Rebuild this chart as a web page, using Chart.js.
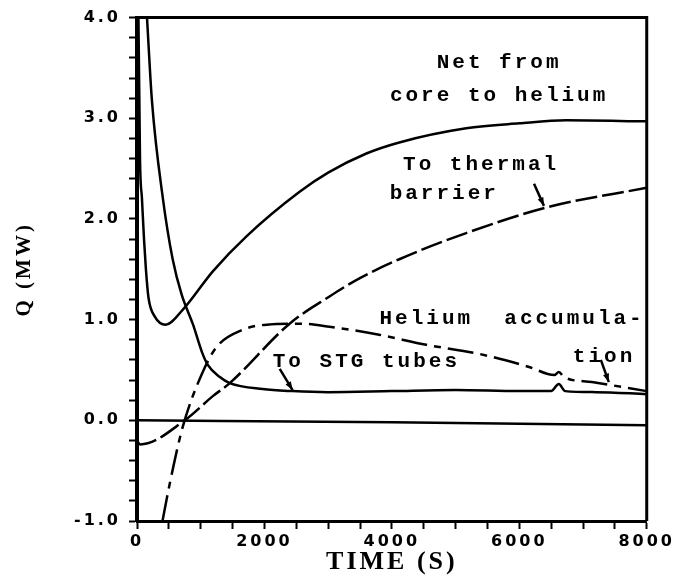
<!DOCTYPE html>
<html>
<head>
<meta charset="utf-8">
<script src="https://cdn.jsdelivr.net/npm/chart.js@4.4.1/dist/chart.umd.min.js"></script>
<style>
  html, body { margin: 0; padding: 0; background: #fff; }
  canvas { display: block; }
</style>
</head>
<body>
<canvas id="heatChart" width="678" height="584"></canvas>
<script>
// values (time in s, Q in MW)
var netTime = [15, 47, 78, 110, 140, 180, 280, 450, 720, 1190, 1722, 2552, 3000, 3600, 4117, 5166, 6000, 6732, 8000];
var netQ = [4.5, 2.6, 2.2, 1.8, 1.5, 1.22, 1.03, 0.95, 1.1, 1.48, 1.83, 2.27, 2.46, 2.65, 2.76, 2.9, 2.95, 2.98, 2.97];

var thermalTime = [0, 50, 750, 1190, 1456, 2395, 3021, 3491, 4117, 5166, 6466, 8000];
var thermalQ = [-0.2, -0.24, 0, 0.24, 0.37, 0.96, 1.23, 1.41, 1.6, 1.86, 2.12, 2.31];

var stgTime = [130, 157, 235, 407, 560, 700, 880, 1018, 1111, 1300, 1456, 1972, 2442, 3000, 4000, 5000, 6000, 6500, 6620, 6720, 7200, 8000];
var stgQ = [4.3, 4.0, 3.17, 2.2, 1.6, 1.25, 0.95, 0.68, 0.55, 0.43, 0.37, 0.31, 0.29, 0.28, 0.29, 0.3, 0.29, 0.29, 0.36, 0.29, 0.28, 0.26];

var heliumTime = [400, 517, 720, 1018, 1252, 1660, 2035, 2552, 3021, 3800, 4540, 5370, 6153, 6550, 6620, 6700, 7140, 8000];
var heliumQ = [-1.0, -0.62, -0.06, 0.46, 0.73, 0.9, 0.95, 0.96, 0.93, 0.85, 0.75, 0.66, 0.53, 0.45, 0.48, 0.43, 0.38, 0.29];

var baseTime = [0, 4000, 8000];
var baseQ = [0, -0.02, -0.05];

var xLabelTicks = [0, 2000, 4000, 6000, 8000];
var yLabelTicks = [-1, 0, 1, 2, 3, 4];

// curve labels and leader arrows, in data coordinates
var notes = [
  { text: "Net from", t: 5683, q: 3.55 },
  { text: "core to helium", t: 5683, q: 3.22 },
  { text: "To thermal", t: 5400, q: 2.54 },
  { text: "barrier", t: 4822, q: 2.25 },
  { text: "Helium  accumula-", t: 5887, q: 1.01 },
  { text: "tion", t: 7330, q: 0.63 },
  { text: "To STG tubes", t: 3600, q: 0.58 }
];
var arrows = [
  { t1: 6231, q1: 2.35, t2: 6387, q2: 2.13 },
  { t1: 2240, q1: 0.51, t2: 2442, q2: 0.3 },
  { t1: 7280, q1: 0.6, t2: 7405, q2: 0.38 }
];

function points(ts, qs) {
  return ts.map(function (t, i) {
    return { x: t, y: qs[i] };
  });
}

var paperPlugin = {
  id: "paper",
  beforeLayout: function (chart) {
    chart.ctx.letterSpacing = "3px";
  },
  beforeDraw: function (chart) {
    var ctx = chart.ctx;
    ctx.save();
    ctx.fillStyle = "#fff";
    ctx.fillRect(0, 0, chart.width, chart.height);
    ctx.restore();
    ctx.letterSpacing = "3px";
  },
  afterDraw: function (chart) {
    var ctx = chart.ctx;
    var a = chart.chartArea;
    var xs = chart.scales.x;
    var ys = chart.scales.y;
    ctx.save();
    // top and right frame
    ctx.strokeStyle = "#000";
    ctx.lineWidth = 3;
    ctx.beginPath();
    ctx.moveTo(a.left, a.top);
    ctx.lineTo(a.right, a.top);
    ctx.lineTo(a.right, a.bottom);
    ctx.stroke();

    ctx.fillStyle = "#000";
    ctx.font = "bold 21px 'Liberation Mono'";
    ctx.textAlign = "center";
    ctx.textBaseline = "middle";
    notes.forEach(function (n) {
      ctx.fillText(n.text, xs.getPixelForValue(n.t), ys.getPixelForValue(n.q));
    });

    ctx.lineWidth = 2.5;
    arrows.forEach(function (r) {
      var x1 = xs.getPixelForValue(r.t1), y1 = ys.getPixelForValue(r.q1);
      var x2 = xs.getPixelForValue(r.t2), y2 = ys.getPixelForValue(r.q2);
      var ang = Math.atan2(y2 - y1, x2 - x1);
      ctx.beginPath();
      ctx.moveTo(x1, y1);
      ctx.lineTo(x2, y2);
      ctx.stroke();
      ctx.beginPath();
      ctx.moveTo(x2, y2);
      ctx.lineTo(x2 - 9 * Math.cos(ang - 0.35), y2 - 9 * Math.sin(ang - 0.35));
      ctx.lineTo(x2 - 9 * Math.cos(ang + 0.35), y2 - 9 * Math.sin(ang + 0.35));
      ctx.closePath();
      ctx.fill();
    });
    ctx.restore();
  }
};

var line = {
  borderColor: "#000",
  borderWidth: 2.5,
  pointRadius: 0,
  fill: false,
  cubicInterpolationMode: "monotone"
};

var ctx = document.getElementById("heatChart").getContext("2d");
var heatChart = new Chart(ctx, {
  type: "line",
  data: {
    datasets: [
      Object.assign({ label: "Net from core to helium", data: points(netTime, netQ) }, line),
      Object.assign({ label: "To thermal barrier", data: points(thermalTime, thermalQ), borderDash: [22, 5] }, line),
      Object.assign({ label: "To STG tubes", data: points(stgTime, stgQ) }, line),
      Object.assign({ label: "Helium accumulation", data: points(heliumTime, heliumQ), borderDash: [26, 7, 7, 7] }, line),
      Object.assign({ label: "base", data: points(baseTime, baseQ) }, line)
    ]
  },
  options: {
    responsive: false,
    animation: false,
    layout: { padding: { left: 4, right: 30, top: 14, bottom: 0 } },
    plugins: {
      legend: { display: false },
      tooltip: { enabled: false }
    },
    scales: {
      x: {
        type: "linear",
        min: 0,
        max: 8000,
        afterFit: function (scale) { scale.height = 63; },
        grid: { drawOnChartArea: false, drawTicks: true, tickLength: 8, tickColor: "#000", tickWidth: 2 },
        border: { display: true, color: "#000", width: 3 },
        ticks: {
          stepSize: 500,
          autoSkip: false,
          maxRotation: 0,
          maxTicksLimit: 20,
          padding: 3,
          color: "#000",
          font: { family: "'DejaVu Sans'", size: 16, weight: "bold" },
          callback: function (v) {
            return xLabelTicks.indexOf(v) >= 0 ? String(v) : "";
          }
        },
        title: {
          display: true,
          text: "TIME (S)",
          color: "#000",
          padding: { top: 0, bottom: 6 },
          font: { family: "'Liberation Serif'", size: 26, weight: "bold" }
        }
      },
      y: {
        min: -1,
        max: 4,
        afterFit: function (scale) { scale.width = 133; },
        grid: { drawOnChartArea: false, drawTicks: true, tickLength: 8, tickColor: "#000", tickWidth: 2 },
        border: { display: true, color: "#000", width: 4 },
        ticks: {
          stepSize: 0.2,
          autoSkip: false,
          maxTicksLimit: 30,
          padding: 8,
          color: "#000",
          font: { family: "'DejaVu Sans'", size: 16, weight: "bold" },
          callback: function (v) {
            var r = Math.round(v);
            return Math.abs(v - r) < 1e-6 && yLabelTicks.indexOf(r) >= 0 ? r.toFixed(1) : "";
          }
        },
        title: {
          display: true,
          text: "Q (MW)",
          color: "#000",
          padding: { top: 8, bottom: 0 },
          font: { family: "'Liberation Serif'", size: 21, weight: "bold" }
        }
      }
    }
  },
  plugins: [paperPlugin]
});
</script>
</body>
</html>
